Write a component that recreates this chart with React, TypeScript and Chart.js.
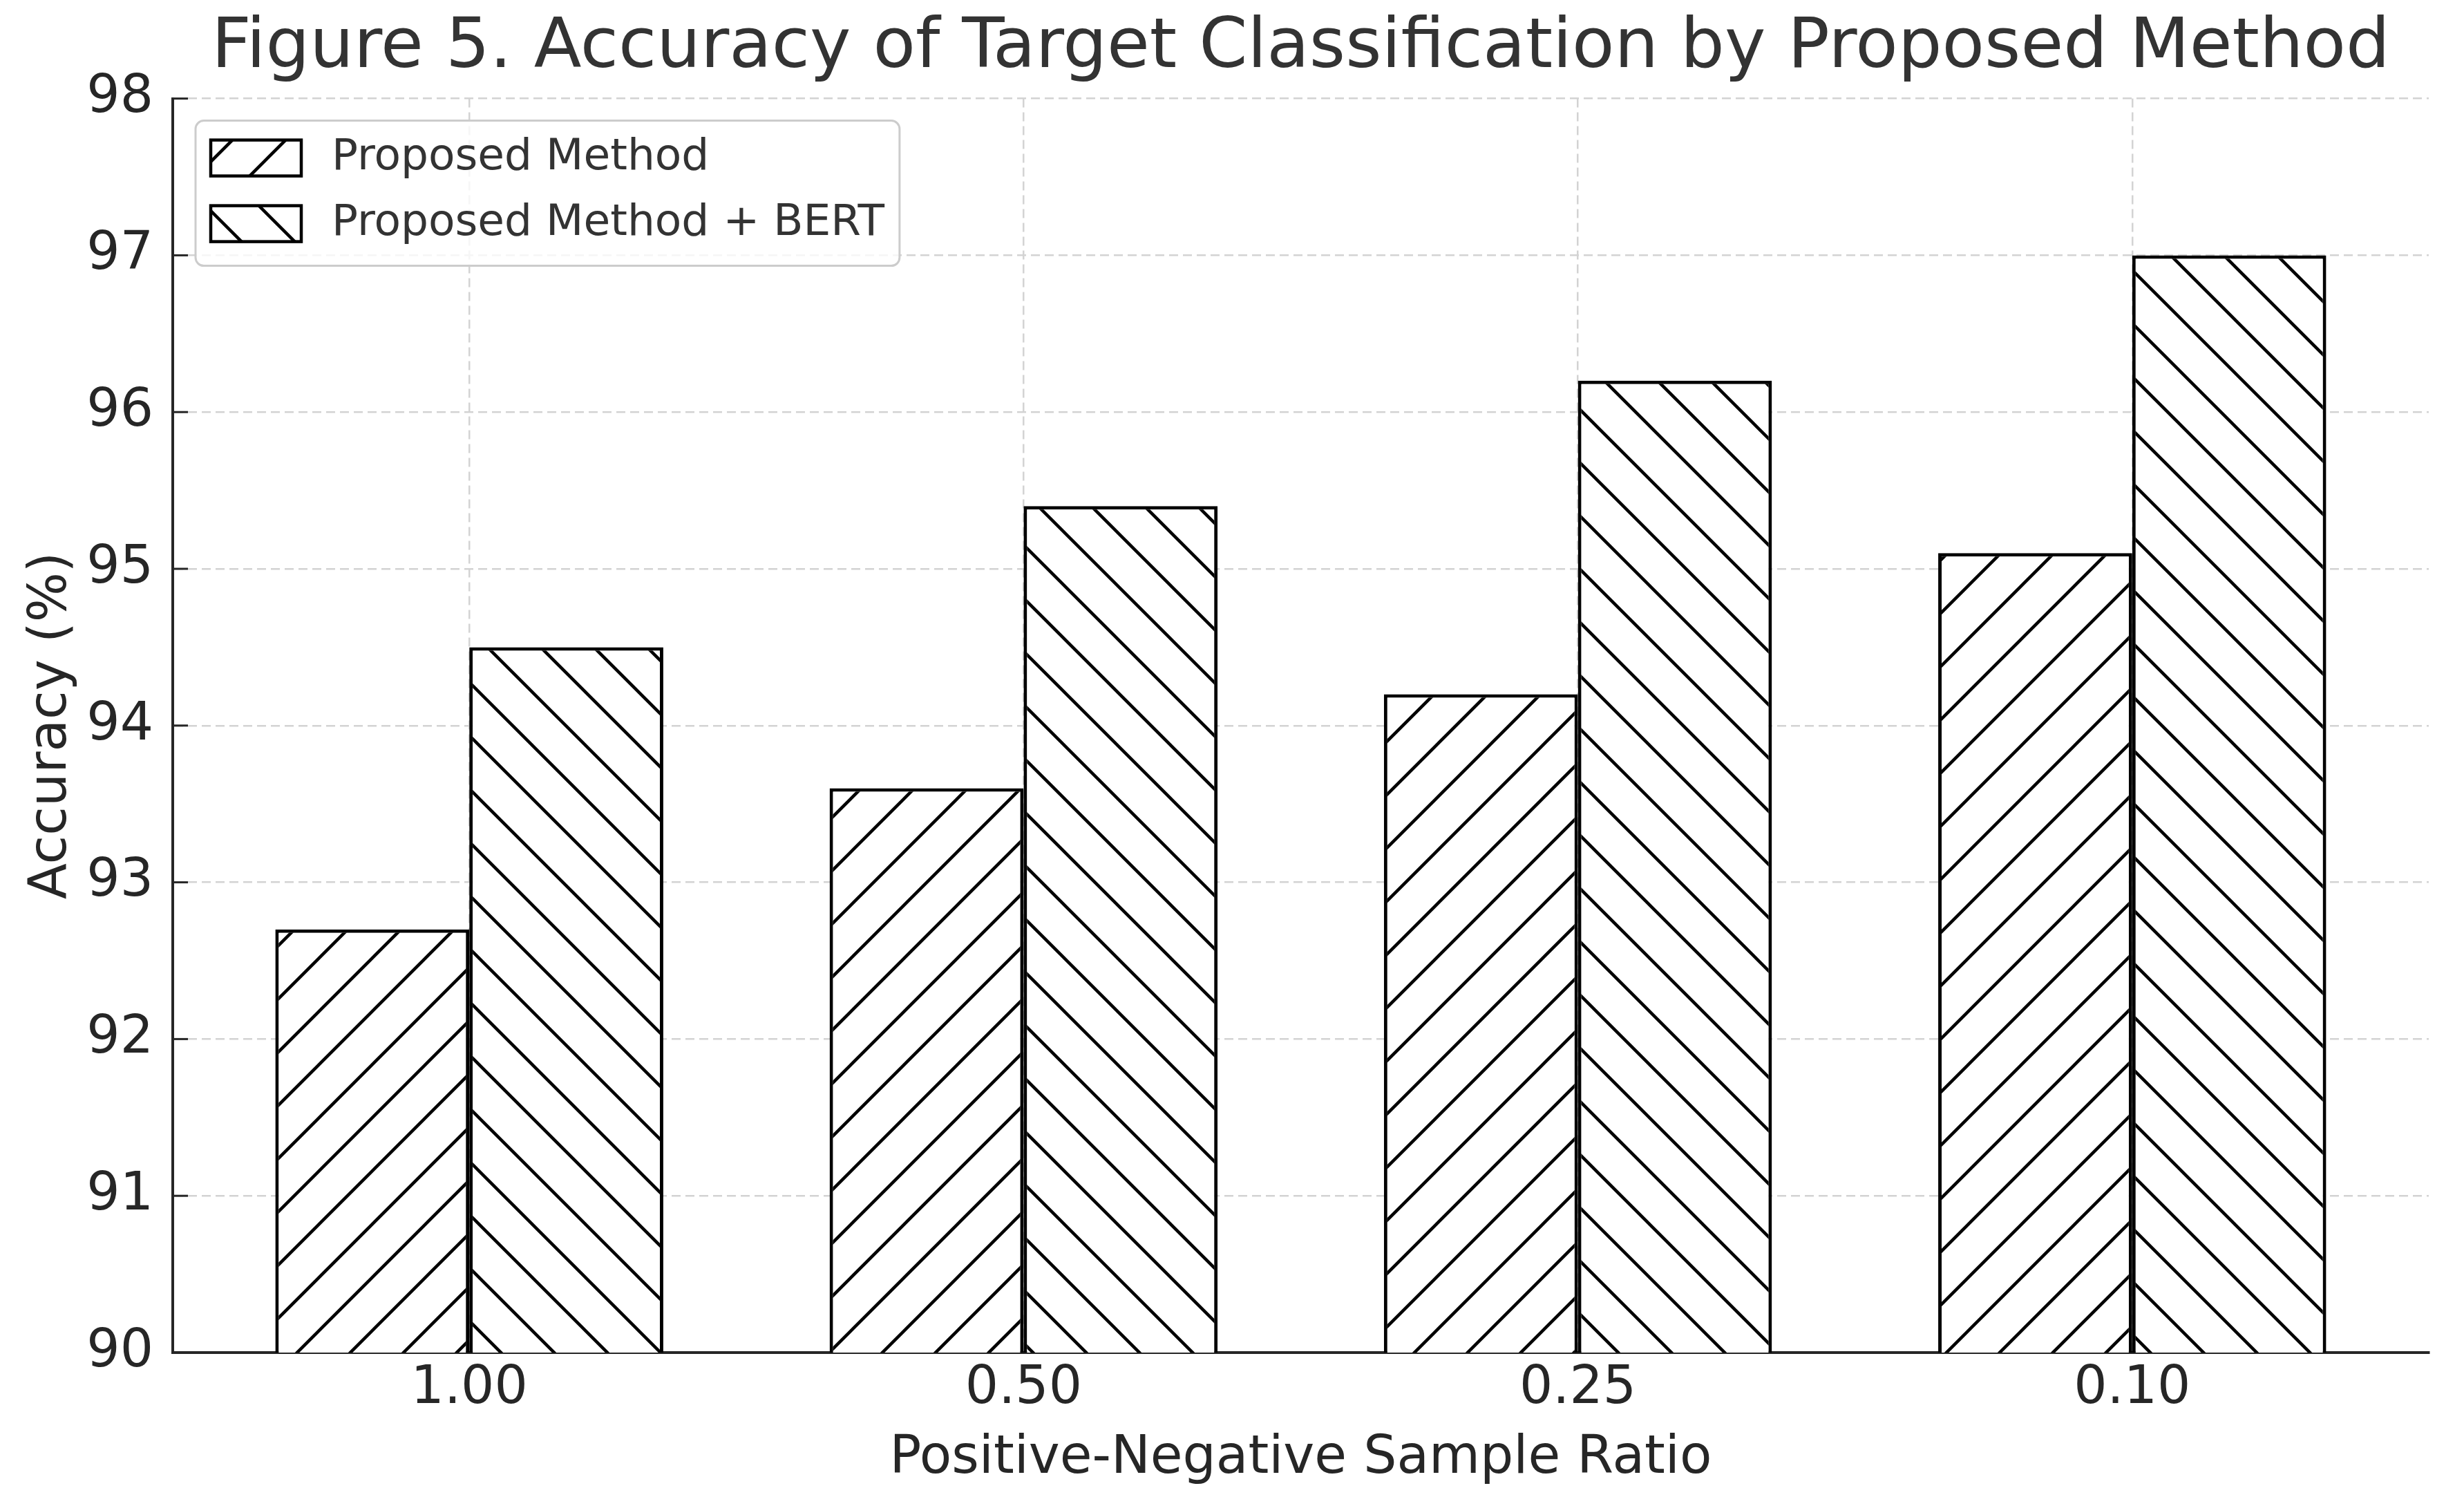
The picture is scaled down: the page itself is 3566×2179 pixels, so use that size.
import React, { useEffect, useRef } from 'react';
import { Chart, registerables } from 'chart.js';

Chart.register(...registerables);

const categories = ['1.00', '0.50', '0.25', '0.10'];
const proposedMethod = [92.7, 93.6, 94.2, 95.1];
const proposedMethodBert = [94.5, 95.4, 96.2, 97.0];
const seriesLabels = ['Proposed Method', 'Proposed Method + BERT'];
const yTicks = [90, 91, 92, 93, 94, 95, 96, 97, 98];

const W = 3566;
const H = 2179;
const FONT = "'DejaVu Sans', sans-serif";
const TEXT = '#262626';

function makeHatch(dir: 'fwd' | 'back'): CanvasPattern {
  const s = 77;
  const c = document.createElement('canvas');
  c.width = s;
  c.height = s;
  const g = c.getContext('2d')!;
  g.fillStyle = '#ffffff';
  g.fillRect(0, 0, s, s);
  g.strokeStyle = '#000000';
  g.lineWidth = 4.5;
  g.beginPath();
  for (const o of [-s, 0, s]) {
    if (dir === 'fwd') {
      g.moveTo(o - 2, s + 2);
      g.lineTo(o + s + 2, -2);
    } else {
      g.moveTo(o - 2, -2);
      g.lineTo(o + s + 2, s + 2);
    }
  }
  g.stroke();
  return g.createPattern(c, 'repeat')!;
}

export default function App() {
  const ref = useRef<HTMLCanvasElement>(null);

  useEffect(() => {
    document.body.style.margin = '0';
    const canvas = ref.current!;
    const hatchF = makeHatch('fwd');
    const hatchB = makeHatch('back');
    const patterns = [hatchF, hatchB];

    const inwardTicks = {
      id: 'inwardTicks',
      afterDraw(chart: any) {
        const y = chart.scales.y;
        const { ctx, chartArea } = chart;
        ctx.save();
        ctx.strokeStyle = TEXT;
        ctx.lineWidth = 3;
        y.ticks.forEach((t: any) => {
          const py = y.getPixelForValue(t.value);
          ctx.beginPath();
          ctx.moveTo(chartArea.left, py);
          ctx.lineTo(chartArea.left + 22, py);
          ctx.stroke();
        });
        ctx.restore();
      },
    };

    const boxLegend = {
      id: 'boxLegend',
      afterDraw(chart: any) {
        const { ctx, chartArea } = chart;
        ctx.save();
        ctx.font = `63px ${FONT}`;
        const textW = Math.max(...seriesLabels.map((t) => ctx.measureText(t).width));
        const x = chartArea.left + 33;
        const y = chartArea.top + 32;
        const w = 197 + textW + 22;
        const h = 210;
        const r = 12;
        ctx.beginPath();
        ctx.moveTo(x + r, y);
        ctx.lineTo(x + w - r, y);
        ctx.arcTo(x + w, y, x + w, y + r, r);
        ctx.lineTo(x + w, y + h - r);
        ctx.arcTo(x + w, y + h, x + w - r, y + h, r);
        ctx.lineTo(x + r, y + h);
        ctx.arcTo(x, y + h, x, y + h - r, r);
        ctx.lineTo(x, y + r);
        ctx.arcTo(x, y, x + r, y, r);
        ctx.closePath();
        ctx.fillStyle = 'rgba(255,255,255,0.8)';
        ctx.fill();
        ctx.strokeStyle = '#cccccc';
        ctx.lineWidth = 3;
        ctx.stroke();
        seriesLabels.forEach((label, i) => {
          const cy = y + 54 + i * 95;
          ctx.fillStyle = patterns[i];
          ctx.fillRect(x + 22, cy - 26, 131, 52);
          ctx.strokeStyle = '#000000';
          ctx.lineWidth = 4.5;
          ctx.strokeRect(x + 22, cy - 26, 131, 52);
          ctx.fillStyle = '#333333';
          ctx.textBaseline = 'middle';
          ctx.textAlign = 'left';
          ctx.fillText(label, x + 197, cy);
        });
        ctx.restore();
      },
    };

    const gridOpts = { color: '#d3d3d3', lineWidth: 2.5, drawTicks: false, offset: false };
    const borderOpts = { display: true, color: TEXT, width: 4, dash: [13, 7] };
    const tickFont = { family: FONT, size: 76 };

    const chart = new Chart(canvas, {
      type: 'bar',
      data: {
        datasets: [
          {
            label: seriesLabels[0],
            data: proposedMethod.map((v, i) => ({ x: i, y: v })),
            backgroundColor: hatchF,
            borderColor: '#000000',
            borderWidth: 5,
            borderSkipped: false,
            categoryPercentage: 0.7,
            barPercentage: 1.0,
          },
          {
            label: seriesLabels[1],
            data: proposedMethodBert.map((v, i) => ({ x: i, y: v })),
            backgroundColor: hatchB,
            borderColor: '#000000',
            borderWidth: 5,
            borderSkipped: false,
            categoryPercentage: 0.7,
            barPercentage: 1.0,
          },
        ],
      } as any,
      options: {
        responsive: false,
        maintainAspectRatio: false,
        animation: false,
        devicePixelRatio: 1,
        layout: { padding: { left: 0, right: 51, top: 0, bottom: 0 } },
        plugins: {
          legend: { display: false },
          tooltip: { enabled: false },
          title: {
            display: true,
            text: 'Figure 5. Accuracy of Target Classification by Proposed Method',
            font: { family: FONT, size: 100.5, weight: 'normal' },
            color: '#333333',
            padding: { top: 11, bottom: 11 },
            fullSize: false,
          },
        },
        scales: {
          x: {
            type: 'linear',
            min: -0.535,
            max: 3.535,
            offset: false,
            z: 1,
            afterBuildTicks: (s: any) => {
              s.ticks = categories.map((_, i) => ({ value: i }));
            },
            afterFit: (s: any) => {
              s.height = 222;
            },
            grid: gridOpts,
            border: borderOpts,
            ticks: {
              callback: (v: any) => categories[v] ?? '',
              font: tickFont,
              color: TEXT,
              padding: 8,
              maxRotation: 0,
              autoSkip: false,
            },
            title: {
              display: true,
              text: 'Positive-Negative Sample Ratio',
              font: tickFont,
              color: TEXT,
              padding: { top: 0, bottom: 22 },
            },
          },
          y: {
            type: 'linear',
            min: 90,
            max: 98,
            beginAtZero: false,
            z: 1,
            afterBuildTicks: (s: any) => {
              s.ticks = yTicks.map((v) => ({ value: v }));
            },
            afterFit: (s: any) => {
              s.width = 250;
            },
            grid: gridOpts,
            border: borderOpts,
            ticks: { font: tickFont, color: TEXT, padding: 28 },
            title: {
              display: true,
              text: 'Accuracy (%)',
              font: tickFont,
              color: TEXT,
              padding: { top: 30, bottom: 0 },
            },
          },
        },
      } as any,
      plugins: [inwardTicks, boxLegend],
    });

    return () => chart.destroy();
  }, []);

  return (
    <div style={{ width: W, height: H }}>
      <canvas ref={ref} width={W} height={H} style={{ display: 'block', width: W, height: H }} />
    </div>
  );
}
